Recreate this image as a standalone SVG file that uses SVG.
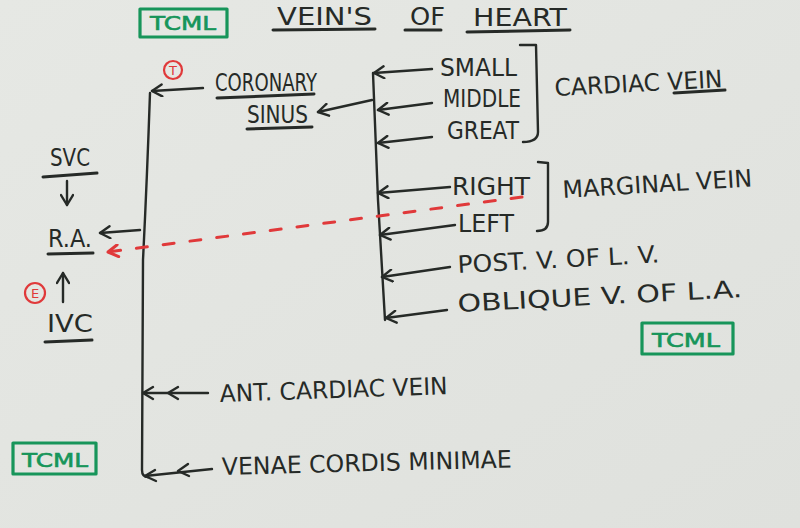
<svg xmlns="http://www.w3.org/2000/svg" width="800" height="528" viewBox="0 0 800 528">
<defs>
<marker id="ah" viewBox="-12 -7 14 14" refX="0" refY="0" markerWidth="14" markerHeight="14" markerUnits="userSpaceOnUse" orient="auto">
<path d="M-10,-6 L0,0 L-10,6" fill="none" stroke="#262a27" stroke-width="2.4" stroke-linecap="round" stroke-linejoin="round"/>
</marker>
<marker id="ahr" viewBox="-12 -7 14 14" refX="0" refY="0" markerWidth="14" markerHeight="14" markerUnits="userSpaceOnUse" orient="auto">
<path d="M-10,-6 L0,0 L-10,6" fill="none" stroke="#e0393a" stroke-width="3" stroke-linecap="round" stroke-linejoin="round"/>
</marker>
<linearGradient id="paper" x1="0" y1="0" x2="1" y2="1">
<stop offset="0" stop-color="#e6e8e4"/>
<stop offset="1" stop-color="#dfe1dd"/>
</linearGradient>
</defs>
<style>
.t{font-family:"DejaVu Sans","Liberation Sans",sans-serif;fill:#262a27;font-size:24px;}
.g{font-family:"DejaVu Sans","Liberation Sans",sans-serif;fill:#17955a;font-size:19px;stroke:#17955a;stroke-width:0.6;}
.r{font-family:"DejaVu Sans","Liberation Sans",sans-serif;fill:#e0393a;font-size:13px;}
.ln{fill:none;stroke:#262a27;stroke-width:2.4;stroke-linecap:round;stroke-linejoin:round;}
.ul{fill:none;stroke:#262a27;stroke-width:3;stroke-linecap:round;}
.bx{fill:none;stroke:#17955a;stroke-width:3.2;stroke-linejoin:round;}
.rc{fill:none;stroke:#e0393a;stroke-width:2.2;}
.ar{fill:none;stroke:#262a27;stroke-width:2.4;stroke-linecap:round;marker-end:url(#ah);}
</style>
<rect x="0" y="0" width="800" height="528" fill="url(#paper)"/>

<g id="title">
<text class="t" x="277" y="25" font-size="27" textLength="95" lengthAdjust="spacingAndGlyphs">VEIN'S</text>
<text class="t" x="410" y="25" font-size="25" textLength="35" lengthAdjust="spacingAndGlyphs">OF</text>
<text class="t" x="473" y="26" font-size="28" textLength="94" lengthAdjust="spacingAndGlyphs">HEART</text>
<path class="ul" d="M273,30 L375,29 M405,30 L441,30 M467,32 L570,30"/>
</g>

<g id="tcml-top">
<rect class="bx" x="140" y="9" width="87" height="28"/>
<text class="g" x="150" y="30" textLength="66" lengthAdjust="spacingAndGlyphs">TCML</text>
</g>
<g id="tcml-right">
<rect class="bx" x="642" y="323" width="91" height="31"/>
<text class="g" x="652" y="347" textLength="68" lengthAdjust="spacingAndGlyphs">TCML</text>
</g>
<g id="tcml-bottom">
<rect class="bx" x="13" y="443" width="83" height="31"/>
<text class="g" x="22" y="467" textLength="66" lengthAdjust="spacingAndGlyphs">TCML</text>
</g>

<g id="connectors">
<path class="ln" d="M150,93 Q147,180 143,260 L142,470 Q142,477 148,477"/>
<path class="ar" d="M203,88 L152,91"/>
<path class="ln" d="M373,73 L378,200 L385,320"/>
<path class="ar" d="M432,69 L374,73"/>
<path class="ar" d="M432,103 L378,110"/>
<path class="ar" d="M432,137 L378,143"/>
<path class="ar" d="M450,187 L378,193"/>
<path class="ar" d="M455,225 L380,235"/>
<path class="ar" d="M450,267 L382,277"/>
<path class="ar" d="M447,310 L386,318"/>
<path class="ar" d="M372,100 L318,112"/>
<path class="ar" d="M140,230 L100,233"/>
<path class="ar" d="M67,181 L67,205"/>
<path class="ar" d="M63,302 L63,273"/>
<path class="ln" d="M208,393 L143,393"/>
<path d="M178,387 L168,393 L178,399 M153,387 L143,393 L153,399" fill="none" stroke="#262a27" stroke-width="2.4" stroke-linecap="round" stroke-linejoin="round"/>
<path class="ln" d="M212,469 L145,476"/>
<path d="M188,464 L178,471 L189,476 M155,470 L145,476 L156,481" fill="none" stroke="#262a27" stroke-width="2.4" stroke-linecap="round" stroke-linejoin="round"/>
<path d="M522,197 L108,252" fill="none" stroke="#e0393a" stroke-width="3" stroke-dasharray="11 16" stroke-linecap="round" marker-end="url(#ahr)"/>
<path class="ln" d="M520,45 L536,45 L538,132 Q538,142 523,142"/>
<path class="ln" d="M538,162 L548,163 L548,222 Q548,231 537,231"/>
</g>

<g id="coronary-sinus">
<text class="t" x="215" y="91" textLength="102" lengthAdjust="spacingAndGlyphs">CORONARY</text>
<path class="ul" d="M217,98 L314,94"/>
<text class="t" x="247" y="123" textLength="61" lengthAdjust="spacingAndGlyphs">SINUS</text>
<path class="ul" d="M247,129 L312,127"/>
<circle class="rc" cx="173" cy="70" r="9"/>
<text class="r" x="173" y="75" text-anchor="middle">T</text>
</g>

<g id="cardiac-veins">
<text class="t" x="440" y="76" textLength="77" lengthAdjust="spacingAndGlyphs">SMALL</text>
<text class="t" x="443" y="107" textLength="78" lengthAdjust="spacingAndGlyphs">MIDDLE</text>
<text class="t" x="447" y="139" textLength="72" lengthAdjust="spacingAndGlyphs">GREAT</text>
<text class="t" x="555" y="96" textLength="168" lengthAdjust="spacingAndGlyphs" transform="rotate(-3 555 96)">CARDIAC VEIN</text>
<path class="ul" d="M674,93 L725,90"/>
</g>

<g id="marginal-veins">
<text class="t" x="452" y="195" textLength="78" lengthAdjust="spacingAndGlyphs">RIGHT</text>
<text class="t" x="458" y="232" textLength="56" lengthAdjust="spacingAndGlyphs">LEFT</text>
<text class="t" x="563" y="198" textLength="190" lengthAdjust="spacingAndGlyphs" transform="rotate(-3.5 563 198)">MARGINAL VEIN</text>
</g>

<g id="post-v">
<text class="t" x="458" y="273" textLength="202" lengthAdjust="spacingAndGlyphs" transform="rotate(-3 458 273)">POST. V. OF L. V.</text>
</g>
<g id="oblique-v">
<text class="t" x="458" y="312" textLength="285" lengthAdjust="spacingAndGlyphs" transform="rotate(-3 458 312)">OBLIQUE V. OF L.A.</text>
</g>

<g id="svc">
<text class="t" x="50" y="166" font-size="21" textLength="40" lengthAdjust="spacingAndGlyphs">SVC</text>
<path class="ul" d="M43,177 L97,173"/>
</g>
<g id="ra">
<text class="t" x="48" y="247" font-size="21" textLength="44" lengthAdjust="spacingAndGlyphs">R.A.</text>
<path class="ul" d="M48,254 L93,253"/>
</g>
<g id="ivc">
<text class="t" x="47" y="332" font-size="22" textLength="46" lengthAdjust="spacingAndGlyphs">IVC</text>
<path class="ul" d="M45,342 L92,340"/>
<circle class="rc" cx="35" cy="293" r="10"/>
<text class="r" x="35" y="298" text-anchor="middle">E</text>
</g>

<g id="ant-cardiac">
<text class="t" x="220" y="402" textLength="228" lengthAdjust="spacingAndGlyphs" transform="rotate(-2 220 402)">ANT. CARDIAC VEIN</text>
</g>
<g id="venae-cordis">
<text class="t" x="222" y="475" textLength="290" lengthAdjust="spacingAndGlyphs" transform="rotate(-1.5 222 475)">VENAE CORDIS MINIMAE</text>
</g>
</svg>
